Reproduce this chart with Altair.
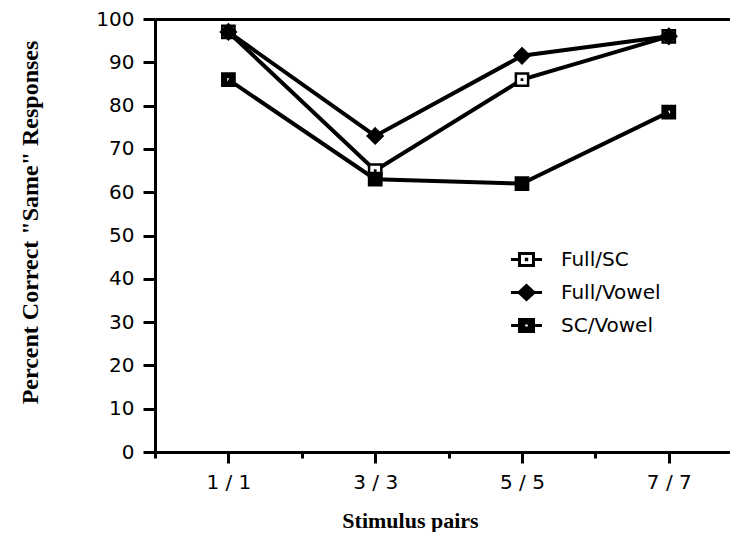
import altair as alt
import pandas as pd

# ---- data ----
pairs = ["1 / 1", "3 / 3", "5 / 5", "7 / 7"]
series_names = ["Full/SC", "Full/Vowel", "SC/Vowel"]
full_sc = [97, 65, 86, 96]
full_vowel = [97, 73, 91.5, 96]
sc_vowel = [86, 63, 62, 78.5]

rows = []
for name, vals in [("Full/SC", full_sc), ("SC/Vowel", sc_vowel), ("Full/Vowel", full_vowel)]:
    for i, v in enumerate(vals):
        rows.append({"pos": i, "pair": pairs[i], "series": name, "value": v})
df = pd.DataFrame(rows)

# ---- marker shapes ----
sq_open = "M-1,-1H1V1H-1Z M-0.02,-0.02H0.02V0.02H-0.02Z"
sq_hole = "M-1,-1H1V1H-1Z M-0.42,-0.42V0.42H0.42V-0.42Z"
diamond = "M0,-1.2L1.2,0L0,1.2L-1.2,0Z"

stub = "M-1.55,0H-0.7 M0.7,0H1.55 "
lg_open = stub + "M-0.7,-0.6H0.7V0.6H-0.7Z M-0.02,-0.02H0.02V0.02H-0.02Z"
lg_diam = stub + "M0,-0.7L0.75,0L0,0.7L-0.75,0Z"
lg_hole = stub + "M-0.7,-0.6H0.7V0.6H-0.7Z M-0.28,-0.25V0.25H0.28V-0.25Z"

fills = ["white", "black", "black"]
strokes = ["black", "black", "black"]

xscale = alt.Scale(domain=[-0.5, 3.417], nice=False, zero=False)
yscale = alt.Scale(domain=[0, 100], nice=False, zero=False)

label_expr = "[" + ",".join('"%s"' % p for p in pairs) + "][datum.value]"

x_major = alt.Axis(values=[0, 1, 2, 3], labelExpr=label_expr, tickSize=11, tickWidth=3,
                   domainWidth=3, labelFont="DejaVu Sans", labelFontSize=20, labelPadding=9,
                   title="Stimulus pairs", titleFont="Liberation Serif", titleFontWeight="bold",
                   titleFontSize=22, titleX=255, titleY=68, titleBaseline="middle",
                   titleAnchor="middle", labelFlush=False)
y_major = alt.Axis(values=list(range(0, 101, 10)), tickSize=12, tickWidth=3, domainWidth=3,
                   labelFont="DejaVu Sans", labelFontSize=20, labelPadding=9,
                   title='Percent Correct "Same" Responses', titleFont="Liberation Serif",
                   titleFontWeight="bold", titleFontSize=24, titleAngle=270,
                   titleX=-125, titleY=203, titleBaseline="middle", titleAnchor="middle",
                   labelFlush=False)

lines = alt.Chart(df).mark_line(color="black", strokeWidth=4).encode(
    x=alt.X("pos:Q", scale=xscale, axis=x_major),
    y=alt.Y("value:Q", scale=yscale, axis=y_major),
    detail="series:N",
)

points = alt.Chart(df).mark_point(filled=False, stroke="black", strokeWidth=2.5, opacity=1).encode(
    x=alt.X("pos:Q", scale=xscale,
            axis=alt.Axis(orient="top", labels=False, ticks=False, domainWidth=3, title=None)),
    y=alt.Y("value:Q", scale=yscale, axis=None),
    shape=alt.Shape("series:N", scale=alt.Scale(domain=series_names,
                                                 range=[sq_open, diamond, sq_hole]), legend=None),
    fill=alt.Fill("series:N", scale=alt.Scale(domain=series_names, range=fills), legend=None),
    size=alt.value(150),
)

legend_cfg = alt.Legend(title=None, orient="none", legendX=360, legendY=229,
                        symbolSize=400, symbolStrokeWidth=3,
                        symbolOpacity=1, labelFont="DejaVu Sans", labelFontSize=20,
                        labelColor="black", labelOffset=23, rowPadding=7)

legend_layer = alt.Chart(df).mark_point(filled=False, strokeWidth=3, opacity=0).encode(
    x=alt.X("pos:Q", scale=xscale,
            axis=alt.Axis(values=[-0.5, 0.5, 1.5, 2.5], labels=False, domain=False,
                          tickSize=6, tickWidth=3, title=None)),
    y=alt.Y("value:Q", scale=yscale,
            axis=alt.Axis(values=list(range(5, 100, 10)), labels=False, domain=False,
                          tickSize=7, tickWidth=3, title=None)),
    shape=alt.Shape("series:N", scale=alt.Scale(domain=series_names,
                                                 range=[lg_open, lg_diam, lg_hole]),
                    legend=legend_cfg),
    fill=alt.Fill("series:N", scale=alt.Scale(domain=series_names, range=fills),
                  legend=legend_cfg),
    stroke=alt.Stroke("series:N", scale=alt.Scale(domain=series_names, range=strokes),
                      legend=legend_cfg),
)

chart = alt.layer(lines, points, legend_layer).resolve_axis(
    x="independent", y="independent"
).resolve_scale(
    shape="independent", fill="independent", stroke="independent"
).properties(
    width=575, height=433,
    autosize=alt.AutoSizeParams(type="none"),
    padding={"left": 147, "top": 11, "right": 0, "bottom": 80},
    background="white",
).configure_view(stroke=None).configure_axis(
    grid=False, domainColor="black", tickColor="black", labelColor="black", titleColor="black"
)

chart.save("out.html", embed_options={"renderer": "svg", "actions": False})
